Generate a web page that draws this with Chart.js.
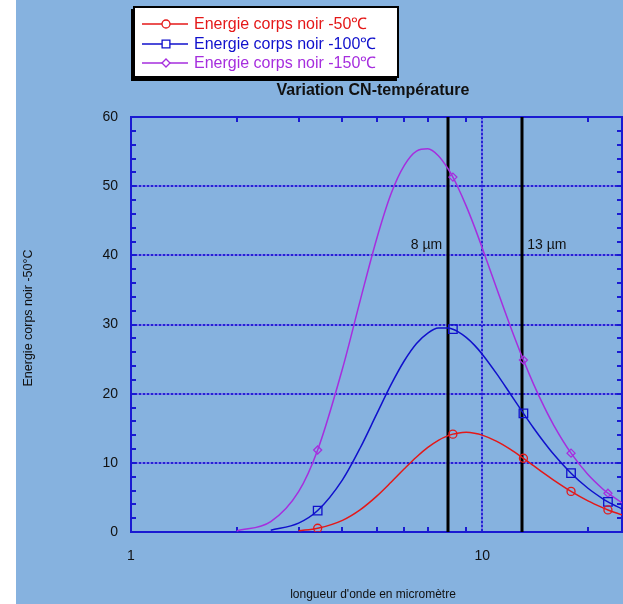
<!DOCTYPE html>
<html>
<head>
<meta charset="utf-8">
<script src="https://cdn.jsdelivr.net/npm/chart.js@4.4.0/dist/chart.umd.min.js"></script>
<style>
  html, body { margin: 0; padding: 0; background: #fff; }
  #wrap { width: 623px; height: 604px; }
</style>
</head>
<body>
<div id="wrap"><canvas id="chart" width="623" height="604"></canvas></div>
<script>
// wavelength in micrometres (log axis)
const wavelengths = [2, 2.5, 3, 3.4, 4, 4.5, 5, 5.5, 6, 6.5, 7, 7.5, 8, 8.25, 8.5, 9, 9.5, 10, 11, 12, 13.1, 14, 15, 16, 17.9, 20, 22, 22.8, 25];
const energyM50 = [null, null, 0.17, 0.54, 1.69, 3.24, 5.15, 7.19, 9.14, 10.85, 12.23, 13.26, 13.93, 14.15, 14.29, 14.41, 14.29, 14.01, 13.11, 11.99, 10.66, 9.59, 8.47, 7.48, 5.87, 4.50, 3.52, 3.19, 2.47];
const energyM100 = [null, 0.24, 1.28, 3.10, 7.54, 12.22, 17.0, 21.3, 24.76, 27.26, 28.76, 29.49, 29.50, 29.32, 29.02, 28.14, 27.02, 25.71, 22.86, 20.03, 17.15, 15.04, 12.98, 11.20, 8.50, 6.33, 4.84, 4.36, 3.32];
const energyM150 = [0.15, 1.50, 5.83, 11.86, 23.6, 33.6, 42.3, 48.9, 53.0, 55.07, 55.4, 54.4, 52.48, 51.31, 49.98, 47.15, 44.15, 41.07, 35.18, 29.87, 24.86, 21.38, 18.12, 15.39, 11.40, 8.31, 6.26, 5.61, 4.21];
const markerWl = [3.4, 8.25, 13.1, 17.9, 22.8];
const seriesLabels = ['Energie corps noir -50℃', 'Energie corps noir -100℃', 'Energie corps noir -150℃'];
const xLabels = [1, 10];
const refLines = [8, 13];
const refLabels = ['8 µm', '13 µm'];

const bg = '#86b2df';
const axisBlue = '#1a1ad2';
const FONT = '"Liberation Sans", Arial, Helvetica, sans-serif';

function makeSet(label, values, color, style, r) {
  const pts = [];
  wavelengths.forEach((w, i) => { if (values[i] !== null) pts.push({ x: w, y: values[i] }); });
  return {
    label: label,
    data: pts,
    borderColor: color,
    borderWidth: 1.5,
    pointStyle: style,
    pointBorderColor: color,
    pointBackgroundColor: 'rgba(0,0,0,0)',
    pointBorderWidth: 1.3,
    pointRadius: c => markerWl.includes(c.raw && c.raw.x) ? r : 0,
    pointHoverRadius: 0,
    cubicInterpolationMode: 'monotone',
    fill: false
  };
}

function dotted(c, x1, y1, x2, y2) {
  c.save();
  c.lineWidth = 2;
  c.strokeStyle = '#7676e6';
  c.beginPath(); c.moveTo(x1, y1); c.lineTo(x2, y2); c.stroke();
  c.setLineDash([2, 2]);
  c.strokeStyle = '#2424d4';
  c.beginPath(); c.moveTo(x1, y1); c.lineTo(x2, y2); c.stroke();
  c.restore();
}

const deco = {
  id: 'deco',
  beforeDraw(chart) {
    const c = chart.ctx;
    c.save();
    c.fillStyle = '#fff';
    c.fillRect(0, 0, chart.width, chart.height);
    c.fillStyle = bg;
    c.fillRect(16, 0, chart.width - 16, chart.height);
    c.restore();
  },
  beforeDatasetsDraw(chart) {
    const c = chart.ctx;
    const a = chart.chartArea;
    const x = chart.scales.x, y = chart.scales.y;
    // grid
    for (let v = 10; v < 60; v += 10) {
      const py = Math.round(y.getPixelForValue(v));
      dotted(c, a.left, py, a.right, py);
    }
    const p10 = Math.round(x.getPixelForValue(10));
    dotted(c, p10, a.top, p10, a.bottom);

    // frame and inner ticks
    c.save();
    c.strokeStyle = axisBlue;
    c.lineWidth = 2;
    c.strokeRect(a.left, a.top, a.right - a.left, a.bottom - a.top);
    c.beginPath();
    for (let v = 2; v < 60; v += 2) {
      const py = Math.round(y.getPixelForValue(v));
      c.moveTo(a.left, py); c.lineTo(a.left + 5, py);
      c.moveTo(a.right, py); c.lineTo(a.right - 5, py);
    }
    [2, 3, 4, 5, 6, 7, 8, 9, 20].forEach(v => {
      const px = Math.round(x.getPixelForValue(v));
      c.moveTo(px, a.bottom); c.lineTo(px, a.bottom - 5);
      c.moveTo(px, a.top); c.lineTo(px, a.top + 5);
    });
    c.stroke();

    // 8 and 13 micrometre lines
    c.strokeStyle = '#000';
    c.lineWidth = 3;
    c.beginPath();
    refLines.forEach(v => {
      const px = Math.round(x.getPixelForValue(v));
      c.moveTo(px, a.top); c.lineTo(px, a.bottom);
    });
    c.stroke();
    c.fillStyle = '#111';
    c.font = '14px ' + FONT;
    c.textBaseline = 'middle';
    const ly = y.getPixelForValue(41.5);
    c.textAlign = 'right';
    c.fillText(refLabels[0], x.getPixelForValue(refLines[0]) - 6, ly);
    c.textAlign = 'left';
    c.fillText(refLabels[1], x.getPixelForValue(refLines[1]) + 5, ly);
    c.restore();
  },
  afterDraw(chart) {
    const c = chart.ctx;
    c.save();
    // title
    c.fillStyle = '#111';
    c.font = 'bold 16px ' + FONT;
    c.textAlign = 'center';
    c.textBaseline = 'alphabetic';
    c.fillText('Variation CN-température', 373, 95);
    // axis titles
    c.font = '12px ' + FONT;
    c.fillText("longueur d'onde en micromètre", 373, 598);
    c.translate(32, 318);
    c.rotate(-Math.PI / 2);
    c.font = '12.5px ' + FONT;
    c.fillText('Energie corps noir -50°C', 0, 0);
    c.restore();

    // legend box
    c.save();
    c.fillStyle = '#000';
    c.fillRect(131, 9, 266, 72);
    c.fillStyle = '#fff';
    c.fillRect(134, 7, 264, 70);
    c.strokeStyle = '#000';
    c.lineWidth = 2;
    c.strokeRect(134, 7, 264, 70);
    const rows = [24, 44, 63];
    chart.data.datasets.forEach((ds, i) => {
      const ry = rows[i];
      c.strokeStyle = ds.borderColor;
      c.lineWidth = 1.5;
      c.beginPath(); c.moveTo(142, ry); c.lineTo(188, ry); c.stroke();
      c.fillStyle = '#fff';
      c.lineWidth = 1.3;
      Chart.helpers.drawPoint(c, { pointStyle: ds.pointStyle, radius: i === 1 ? 5.5 : 4, rotation: 0, borderWidth: 1.3 }, 166, ry);
      c.fillStyle = ds.borderColor;
      c.font = '16px ' + FONT;
      c.textAlign = 'left';
      c.textBaseline = 'middle';
      c.fillText(ds.label, 194, ry + 1);
    });
    c.restore();
  }
};

new Chart(document.getElementById('chart'), {
  type: 'line',
  data: {
    datasets: [
      makeSet(seriesLabels[0], energyM50, '#e41818', 'circle', 4),
      makeSet(seriesLabels[1], energyM100, '#1010cc', 'rect', 6),
      makeSet(seriesLabels[2], energyM150, '#a62ede', 'rectRot', 4)
    ]
  },
  options: {
    responsive: false,
    animation: false,
    devicePixelRatio: 1,
    layout: { padding: { top: 117, right: 1, left: 0, bottom: 0 } },
    plugins: { legend: { display: false }, title: { display: false }, tooltip: { enabled: false } },
    scales: {
      x: {
        type: 'logarithmic',
        min: 1,
        max: 25,
        grid: { display: false },
        border: { display: false },
        afterFit: s => { s.height = 72; s.paddingLeft = 0; s.paddingRight = 0; },
        ticks: {
          autoSkip: false,
          maxRotation: 0,
          padding: 8,
          color: '#111',
          font: { size: 14, family: FONT },
          callback: v => xLabels.includes(v) ? String(v) : ''
        }
      },
      y: {
        min: 0,
        max: 60,
        grid: { display: false },
        border: { display: false },
        afterFit: s => { s.width = 131; s.paddingTop = 0; s.paddingBottom = 0; },
        ticks: {
          stepSize: 10,
          padding: 5,
          color: '#111',
          font: { size: 14, family: FONT }
        }
      }
    }
  },
  plugins: [deco]
});
</script>
</body>
</html>
